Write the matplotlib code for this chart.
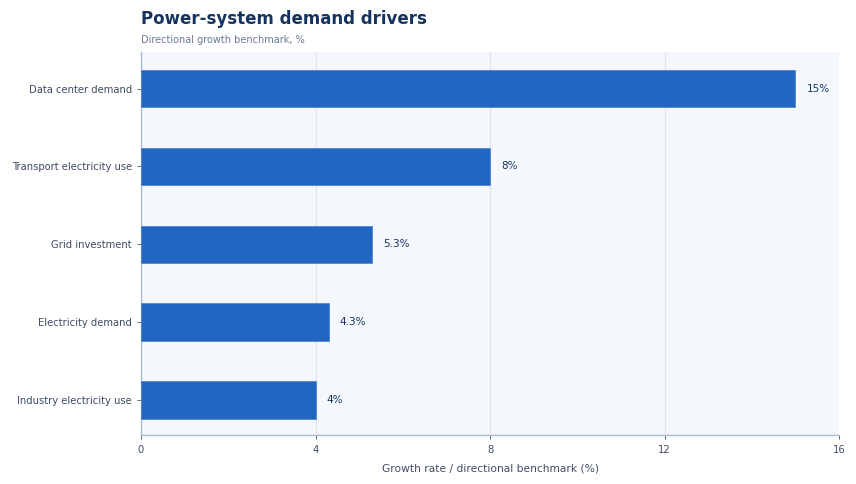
import matplotlib

matplotlib.use("Agg")
import matplotlib.pyplot as plt

CATEGORIES = [
    "Data center demand",
    "Transport electricity use",
    "Grid investment",
    "Electricity demand",
    "Industry electricity use",
]
VALUES = [15, 8, 5.3, 4.3, 4]
LABELS = ["15%", "8%", "5.3%", "4.3%", "4%"]
XTICKS = [0, 4, 8, 12, 16]

BAR_COLOR = "#2066c2"
BG_COLOR = "#f4f7fc"
GRID_COLOR = "#dfe5ee"
SPINE_COLOR = "#a9bbd3"
TEXT_COLOR = "#3e4c63"
TITLE_COLOR = "#15335e"

plt.rcParams.update({"font.family": "DejaVu Sans", "font.size": 7.2})

fig = plt.figure(figsize=(8.56, 4.84), dpi=100)
ax = fig.add_axes([141 / 856, 1 - 435 / 484, (839 - 141) / 856, (435 - 52) / 484])
ax.set_facecolor(BG_COLOR)

ypos = list(range(len(CATEGORIES)))
ax.barh(ypos, VALUES, height=0.48, color=BAR_COLOR, edgecolor="#4f86cf",
        linewidth=0.6, zorder=3)
for y, v, lab in zip(ypos, VALUES, LABELS):
    ax.text(v + 0.26, y, lab, ha="left", va="center", fontsize=7.5,
            color=TITLE_COLOR, zorder=4)

ax.set_yticks(ypos, CATEGORIES)
ax.set_ylim(len(CATEGORIES) - 0.55, -0.47)
ax.set_xlim(0, 16)
ax.set_xticks(XTICKS, [str(t) for t in XTICKS])
ax.set_xlabel("Growth rate / directional benchmark (%)", fontsize=7.7, color=TEXT_COLOR,
              labelpad=6)
ax.grid(axis="x", color=GRID_COLOR, lw=0.8, zorder=0)
ax.spines[["top", "right"]].set_visible(False)
ax.spines[["left", "bottom"]].set_color(SPINE_COLOR)
ax.spines[["left", "bottom"]].set_linewidth(1.0)
ax.tick_params(colors=TEXT_COLOR, labelsize=7.2)
ax.tick_params(axis="both", color=TEXT_COLOR, length=3, width=0.6)
ax.tick_params(axis="x", pad=4)

fig.text(141 / 856, 1 - 19 / 484, "Power-system demand drivers", fontsize=12,
         fontweight="bold", color=TITLE_COLOR, va="center", ha="left")
fig.text(141 / 856, 1 - 40 / 484, "Directional growth benchmark, %", fontsize=7,
         color="#6b7a90", va="center", ha="left")

fig.savefig("out.png", dpi=100, facecolor="white")
